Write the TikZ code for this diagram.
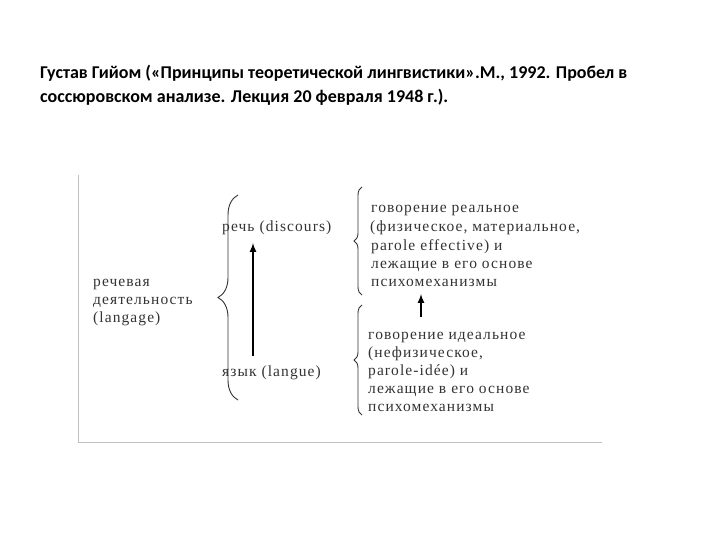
\documentclass[tikz,border=0pt]{standalone}
\usepackage{fontspec}
\setmainfont{Liberation Serif}[LetterSpace=7]
\newfontfamily\titlefont{Carlito}
\usetikzlibrary{decorations.pathreplacing}
\begin{document}
\begin{tikzpicture}[x=1pt,y=-1pt,
  t/.style={anchor=base west,font=\fontsize{15.5}{17}\selectfont,text=black!80,inner sep=0pt},
  ar/.style={-latex,line width=2pt},
  br/.style={decorate,decoration={brace,amplitude=#1},line width=0.9pt,black!80}]
\useasboundingbox (0,0) rectangle (720,540);
\node[anchor=west,inner sep=0pt,font=\titlefont\bfseries\fontsize{18}{20}\selectfont,align=left] (title) at (40,85)
 {Густав Гийом («Принципы теоретической лингвистики».М., 1992. Пробел в\\[4pt]соссюровском анализе. Лекция 20 февраля 1948 г.).};
\draw[black!25,line width=1pt] (78,175) -- (78,442) -- (602,442);
\node[t] (a1) at (93,286) {речевая};
\node[t] (a2) at (93,304) {деятельность};
\node[t] (a3) at (93,322) {(langage)};
\coordinate (b1) at (238,400); \coordinate (b2) at (238,195);
\draw[br=20pt] (b1) -- (b2);
\node[t] (rech) at (222,232) {речь (discours)};
\node[t] (yaz) at (222,376) {язык (langue)};
\draw[ar] (253,356) -- (253,243);
\coordinate (c1) at (362,295); \coordinate (c2) at (362,187);
\draw[br=8pt] (c1) -- (c2);
\coordinate (d1) at (362,415); \coordinate (d2) at (362,305);
\draw[br=8pt] (d1) -- (d2);
\node[t] (r1) at (371,213) {говорение реальное};
\node[t] (r2) at (370,232) {(физическое, материальное,};
\node[t] (r3) at (371,250) {parole effective) и};
\node[t] (r4) at (371,268) {лежащие в его основе};
\node[t] (r5) at (371,286) {психомеханизмы};
\node[t] (i1) at (368,339) {говорение идеальное};
\node[t] (i2) at (368,357) {(нефизическое,};
\node[t] (i3) at (368,375) {parole-idée) и};
\node[t] (i4) at (368,393) {лежащие в его основе};
\node[t] (i5) at (368,411) {психомеханизмы};
\draw[ar] (421,317) -- (421,294);
\end{tikzpicture}
\end{document}
